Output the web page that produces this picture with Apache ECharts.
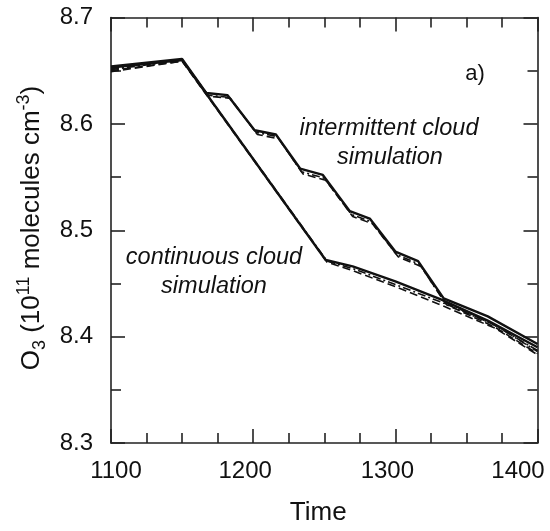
<!DOCTYPE html>
<html><head><meta charset="utf-8">
<script src="https://cdn.jsdelivr.net/npm/echarts@6/dist/echarts.min.js"></script>
<style>html,body{margin:0;padding:0;background:#fff}#c{width:550px;height:531px}</style>
</head><body><div id="c"></div>
<script>
// Data: [time, O3 (1e11 molecules cm^-3)]
const contSolid = [[1100,8.653],[1150,8.660],[1251,8.472],[1270,8.466],[1300,8.452],[1332,8.435],[1365,8.415],[1400,8.390]];
const contDash = [[1100,8.649],[1150,8.659],[1252,8.470],[1270,8.462],[1300,8.447],[1335,8.428],[1370,8.408],[1400,8.383]];
const contDashDot = [[1100,8.651],[1150,8.660],[1252,8.471],[1270,8.464],[1300,8.449],[1335,8.431],[1370,8.411],[1400,8.386]];
const interSolid = [[1100,8.654],[1150,8.661],[1167,8.629],[1182,8.627],[1201,8.594],[1216,8.590],[1233,8.558],[1249,8.552],[1268,8.518],[1282,8.511],[1300,8.480],[1316,8.471],[1334,8.436],[1365,8.419],[1400,8.393]];
const interDash = [[1100,8.650],[1150,8.659],[1169,8.626],[1184,8.624],[1203,8.590],[1218,8.586],[1235,8.553],[1251,8.547],[1270,8.513],[1284,8.506],[1302,8.475],[1318,8.466],[1336,8.430],[1370,8.409],[1400,8.384]];
const interDashDot = [[1100,8.652],[1150,8.660],[1168,8.627],[1183,8.625],[1202,8.592],[1217,8.588],[1234,8.555],[1250,8.549],[1269,8.515],[1283,8.508],[1301,8.477],[1317,8.468],[1335,8.432],[1368,8.412],[1400,8.387]];
const xTicks = {min:1100, max:1400, interval:100};
const yTicks = {min:8.3, max:8.7, interval:0.1};

const FONT = 'Arial, "Liberation Sans", sans-serif';
const chart = echarts.init(document.getElementById('c'));
function ln(data, type, w){
  return {type:'line', data:data, symbol:'none', smooth:false, animation:false,
    lineStyle:{color:'#111', width:w, type:type}, z:3};
}
const axisCommon = {
  axisLine:{show:true, onZero:false, lineStyle:{color:'#222', width:1.6}},
  axisTick:{show:true, inside:true, length:14, lineStyle:{color:'#222', width:1.6}},
  minorTick:{show:true, length:10, lineStyle:{color:'#222', width:1.6}},
  splitLine:{show:false}
};
const lblRich = {
  f:{fontSize:24, fontFamily:FONT, color:'#111', padding:[0,0,0,10]},
  m:{fontSize:24, fontFamily:FONT, color:'#111', padding:[0,16,0,0]},
  e:{fontSize:24, fontFamily:FONT, color:'#111', padding:[0,39,0,0]}
};
chart.setOption({
  animation:false,
  grid:{left:111, right:12.5, top:17.5, bottom:88, containLabel:false, outerBoundsMode:'none'},
  xAxis:[
    Object.assign({type:'value', position:'bottom', min:xTicks.min, max:xTicks.max, interval:xTicks.interval,
      axisLabel:{color:'#111', fontSize:24, fontFamily:FONT, margin:16, hideOverlap:false,
        formatter:v=> v===xTicks.max ? '{e|'+v+'}' : (v===xTicks.min ? '{f|'+v+'}' : '{m|'+v+'}'), rich:lblRich},
      name:'Time', nameLocation:'middle', nameGap:57,
      nameTextStyle:{color:'#111', fontSize:26, fontFamily:FONT, padding:[0,12,0,0]}},
      axisCommon, {minorTick:Object.assign({}, axisCommon.minorTick, {splitNumber:4})}),
    Object.assign({type:'value', position:'top', min:xTicks.min, max:xTicks.max, interval:xTicks.interval,
      axisLabel:{show:false}}, axisCommon, {minorTick:Object.assign({}, axisCommon.minorTick, {splitNumber:4})})
  ],
  yAxis:[
    Object.assign({type:'value', position:'left', min:yTicks.min, max:yTicks.max, interval:yTicks.interval,
      axisLabel:{color:'#111', fontSize:24, fontFamily:FONT, margin:18, formatter:v=>v.toFixed(1)}},
      axisCommon, {minorTick:Object.assign({}, axisCommon.minorTick, {splitNumber:2})}),
    Object.assign({type:'value', position:'right', min:yTicks.min, max:yTicks.max, interval:yTicks.interval,
      axisLabel:{show:false}}, axisCommon, {minorTick:Object.assign({}, axisCommon.minorTick, {splitNumber:2})})
  ],
  series:[
    ln(contDash,[8,4],1.6), ln(contDashDot,[8,3,2,3],1.6), ln(contSolid,'solid',2.4),
    ln(interDash,[8,4],1.6), ln(interDashDot,[8,3,2,3],1.6), ln(interSolid,'solid',2.4)
  ],
  graphic:[
    {type:'text', x:32, y:228, rotation:Math.PI/2, style:{
      text:'{a|O}{s|3}{a| (10}{p|11}{a| molecules cm}{p|-3}{a|)}',
      align:'center', verticalAlign:'middle', fill:'#111', font:'26px '+FONT,
      rich:{a:{fontSize:26, fontFamily:FONT, fill:'#111', lineHeight:34, verticalAlign:'middle'},
            s:{fontSize:18, fontFamily:FONT, fill:'#111', lineHeight:34, verticalAlign:'bottom', padding:[10,0,0,0]},
            p:{fontSize:18, fontFamily:FONT, fill:'#111', lineHeight:34, verticalAlign:'top', padding:[0,0,10,0]}}
    }},
    {type:'text', x:389, y:128, style:{text:'intermittent cloud', align:'center', verticalAlign:'middle', fill:'#111', font:'italic 23.5px '+FONT}},
    {type:'text', x:390, y:157, style:{text:'simulation', align:'center', verticalAlign:'middle', fill:'#111', font:'italic 23.5px '+FONT}},
    {type:'text', x:214, y:257, style:{text:'continuous cloud', align:'center', verticalAlign:'middle', fill:'#111', font:'italic 23.5px '+FONT}},
    {type:'text', x:214, y:286, style:{text:'simulation', align:'center', verticalAlign:'middle', fill:'#111', font:'italic 23.5px '+FONT}},
    {type:'text', x:475, y:74, style:{text:'a)', align:'center', verticalAlign:'middle', fill:'#111', font:'22px '+FONT}}
  ]
});
</script></body></html>
